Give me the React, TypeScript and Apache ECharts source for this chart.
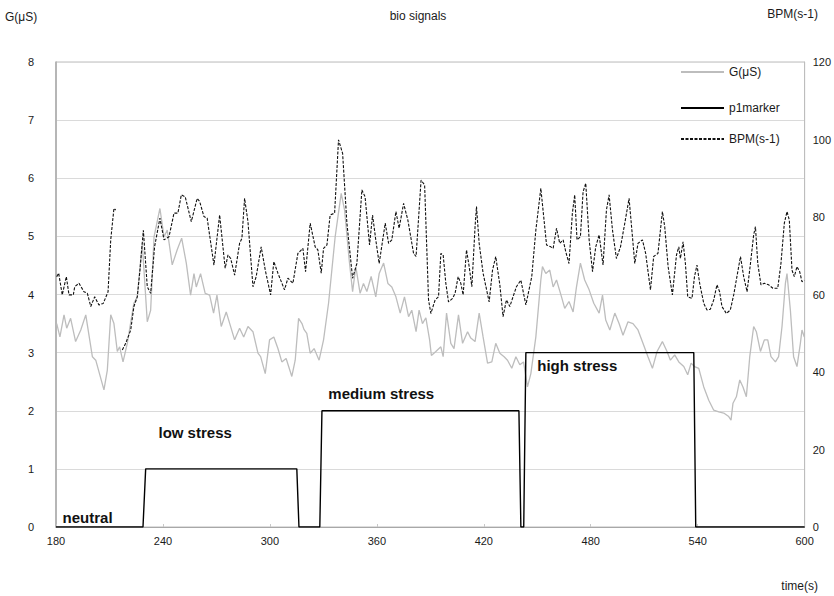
import { useEffect, useRef } from "react";
import * as echarts from "echarts";

const FONT = "'Liberation Sans', Arial, Helvetica, sans-serif";

// time (s) , skin conductance G (µS)
const gData: [number, number][] = [
  [180.4, 3.5], [182.2, 3.27], [184.5, 3.65], [186.0, 3.42], [188.2, 3.59], [191.0, 3.19], [193.9, 3.39], [196.7, 3.65],
  [200.4, 2.93], [202.3, 2.87], [206.9, 2.36], [208.8, 2.7], [210.7, 3.65], [212.5, 3.5], [214.4, 3.02], [215.7, 3.1],
  [217.6, 2.84], [220.0, 3.16], [223.7, 3.85], [225.6, 3.96], [228.4, 4.88], [231.2, 3.53], [233.1, 3.73], [235.0, 4.99],
  [238.3, 5.48], [240.6, 4.99], [242.4, 5.11], [245.2, 4.51], [248.0, 4.77], [250.5, 4.97], [253.1, 4.54], [255.5, 3.99],
  [257.4, 4.36], [258.7, 4.13], [261.1, 4.36], [263.7, 4.02], [266.2, 3.99], [268.4, 3.68], [270.3, 3.99], [272.7, 3.45],
  [275.5, 3.7], [280.2, 3.22], [283.0, 3.42], [285.3, 3.27], [287.7, 3.45], [290.5, 3.36], [293.3, 2.99], [294.8, 2.93],
  [297.4, 2.64], [299.8, 3.22], [302.2, 3.27], [304.5, 3.07], [306.7, 2.84], [309.1, 2.9], [312.3, 2.59], [314.2, 2.87],
  [316.1, 3.59], [318.0, 3.5], [319.1, 3.4], [320.7, 3.33], [322.6, 2.99], [324.8, 3.07], [327.6, 2.87], [330.1, 3.22],
  [332.9, 3.85], [336.6, 4.99], [340.0, 5.74], [341.9, 5.45], [344.5, 4.59], [346.4, 4.05], [348.2, 4.48], [350.6, 4.02],
  [352.5, 4.19], [354.4, 4.05], [356.8, 4.31], [359.4, 3.96], [361.3, 4.36], [363.8, 4.54], [366.2, 4.19], [368.4, 4.13],
  [370.7, 3.96], [373.1, 3.68], [375.5, 3.96], [377.8, 3.62], [379.6, 3.73], [382.0, 3.36], [383.7, 3.73], [385.6, 3.5],
  [387.5, 3.6], [389.6, 3.22], [390.6, 2.95], [393.1, 3.02], [395.9, 3.1], [397.2, 2.93], [399.1, 3.68], [401.5, 3.16],
  [403.3, 3.07], [405.8, 3.65], [408.1, 3.16], [410.9, 3.36], [412.7, 3.25], [415.1, 3.19], [417.4, 3.68], [419.6, 3.27],
  [422.1, 2.82], [424.5, 2.84], [426.7, 3.16], [429.0, 2.99], [431.4, 2.93], [433.3, 2.87], [435.7, 2.73], [438.0, 2.93],
  [440.2, 2.79], [442.3, 2.84], [444.5, 2.41], [446.4, 2.64], [449.2, 3.27], [452.0, 4.25], [452.9, 4.48], [454.8, 4.36],
  [457.0, 4.42], [458.9, 4.13], [460.8, 4.25], [463.6, 3.96], [465.4, 3.76], [467.8, 3.88], [470.1, 3.7], [472.0, 4.13],
  [474.2, 4.54], [476.6, 4.25], [479.1, 4.08], [481.7, 3.85], [484.7, 3.68], [486.6, 3.99], [488.4, 3.56], [490.7, 3.39],
  [493.5, 3.68], [495.9, 3.5], [498.1, 3.3], [500.9, 3.53], [503.7, 3.5], [506.5, 3.39], [509.3, 3.16], [512.1, 2.93],
  [514.6, 2.73], [517.2, 3.02], [520.2, 3.19], [522.8, 3.02], [524.7, 2.87], [527.1, 2.96], [529.4, 2.84], [532.2, 2.76],
  [534.4, 2.62], [536.3, 2.82], [538.2, 2.76], [540.6, 2.73], [543.4, 2.41], [546.2, 2.18], [549.0, 2.01], [551.8, 1.98],
  [554.6, 1.96], [557.4, 1.9], [558.7, 1.84], [559.8, 2.13], [561.7, 2.24], [563.6, 2.53], [565.4, 2.41], [567.3, 2.24],
  [569.2, 2.93], [571.4, 3.45], [572.9, 3.36], [575.2, 3.02], [577.4, 3.22], [579.3, 3.22], [581.1, 2.93], [583.6, 2.84],
  [585.4, 2.93], [587.3, 3.45], [589.2, 4.19], [590.1, 4.36], [592.0, 3.73], [593.8, 2.93], [595.7, 2.76], [597.6, 3.16],
  [598.5, 3.39], [599.8, 3.27],
];

// time (s) , heart rate BPM (s-1) ; null = missing samples
const bpmData: [number, number | null][] = [
  [180.4, 64.6], [181.5, 65.5], [183.5, 59.9], [185.8, 64.6], [187.3, 59.9], [189.7, 59.9], [190.5, 62.0], [192.9, 62.9],
  [195.7, 60.7], [197.6, 60.3], [199.5, 56.9], [201.7, 59.4], [204.1, 57.3], [206.5, 57.7], [209.2, 60.7], [210.7, 74.1],
  [212.5, 82.2], [213.5, 81.8], [215.0, null],
  [217.2, 45.7], [219.1, 47.4], [221.9, 50.8], [223.7, 56.9], [225.6, 59.4], [227.1, 66.3], [229.0, 76.6], [231.2, 62.0],
  [233.1, 60.3], [235.3, 72.3], [238.3, 79.7], [240.6, 74.1], [243.4, 74.9], [246.2, 81.0], [248.4, 81.0], [250.3, 85.7],
  [252.5, 85.2], [255.9, 78.8], [259.2, 84.8], [260.6, 84.0], [263.0, 80.1], [264.8, 79.7], [268.6, 67.6], [271.8, 80.5],
  [274.9, 66.8], [276.5, 70.2], [278.0, 69.3], [280.2, 65.0], [283.0, 73.2], [284.3, 74.5], [285.8, 84.8], [287.7, 78.8],
  [290.5, 62.0], [292.3, 64.6], [295.1, 72.3], [297.4, 66.3], [300.4, 59.9], [302.2, 68.5], [304.5, 65.5], [308.2, 61.2],
  [310.1, 64.2], [312.9, 62.9], [315.7, 70.6], [318.5, 71.9], [320.0, 65.9], [322.6, 78.4], [325.4, 72.3], [326.9, 71.5],
  [328.8, 65.5], [330.1, 71.9], [332.0, 72.8], [333.8, 80.5], [336.3, 81.0], [338.5, 99.9], [340.8, 96.4], [343.2, 78.4],
  [346.4, 64.2], [348.8, 68.0], [351.6, 87.0], [353.4, 85.2], [355.9, 72.8], [357.6, 80.5], [359.4, 74.1], [361.3, 68.0],
  [364.7, 78.4], [366.6, 73.2], [368.4, 74.1], [370.7, 81.4], [372.5, 77.1], [375.0, 83.5], [377.4, 79.2], [380.6, 70.6],
  [382.0, 69.8], [384.8, 89.5], [386.8, 88.3], [389.0, 58.6], [390.3, 55.1], [392.7, 58.6], [394.6, 59.4], [395.9, 70.6],
  [397.2, 70.2], [398.7, 62.9], [400.2, 58.1], [402.5, 59.0], [403.9, 60.3], [405.6, 64.6], [407.1, 62.9], [408.4, 59.9],
  [410.3, 71.5], [411.8, 67.2], [413.3, 62.0], [415.1, 77.5], [415.9, 82.7], [417.4, 73.2], [419.6, 65.5], [423.0, 58.1],
  [424.9, 66.3], [426.7, 69.8], [429.0, 62.5], [430.8, 54.3], [432.7, 58.6], [434.6, 56.9], [436.4, 59.4], [438.3, 62.0],
  [440.8, 63.7], [443.6, 57.3], [446.9, 64.6], [449.2, 76.6], [452.0, 87.4], [453.8, 79.2], [455.2, 72.8], [457.6, 72.3],
  [458.9, 71.9], [460.8, 77.1], [462.6, 73.2], [464.5, 74.1], [466.0, 71.0], [467.8, 68.0], [469.7, 81.0], [471.0, 85.7],
  [472.3, 74.1], [474.2, 74.9], [475.7, 86.5], [477.2, 88.7], [479.1, 74.1], [481.0, 65.9], [482.8, 72.3], [484.7, 75.4],
  [486.9, 67.6], [488.8, 81.8], [490.3, 85.7], [492.2, 76.6], [494.4, 69.3], [496.7, 72.3], [499.1, 78.4], [501.5, 84.8],
  [503.4, 74.9], [504.7, 68.0], [506.5, 73.2], [509.0, 74.1], [510.8, 70.6], [513.5, 61.2], [515.3, 69.8], [517.7, 70.6],
  [520.2, 81.4], [521.5, 77.5], [523.4, 67.2], [525.8, 59.9], [528.1, 70.2], [529.4, 72.3], [530.3, 69.3], [531.8, 73.6],
  [533.1, 68.0], [534.4, 59.4], [536.8, 59.0], [538.2, 64.6], [539.6, 67.6], [541.1, 62.9], [543.4, 57.7], [545.2, 56.0],
  [547.1, 56.2], [549.0, 58.6], [550.8, 62.5], [552.3, 60.7], [553.6, 56.9], [556.1, 55.1], [558.3, 56.0], [560.2, 59.9],
  [562.0, 64.6], [564.0, 69.8], [565.8, 64.6], [567.7, 60.7], [569.6, 68.0], [571.4, 75.4], [572.4, 77.5], [573.7, 68.0],
  [575.5, 62.5], [577.4, 62.9], [579.8, 62.5], [582.2, 61.6], [584.9, 61.6], [586.7, 68.0], [588.6, 78.4], [590.1, 81.4],
  [591.4, 79.2], [592.9, 66.3], [594.2, 64.6], [595.7, 67.2], [597.2, 65.9], [598.5, 63.3], [599.8, 63.7],
];

// stress phase marker (level 0..3)
const markerData: [number, number][] = [
  [180, 0], [228.8, 0], [230.3, 1], [315.1, 1], [316.3, 0], [328.0, 0], [329.2, 2], [439.7, 2], [440.8, 0],
  [442.4, 0], [443.6, 3], [537.8, 3], [538.9, 0], [600, 0],
];

// phase labels: text, time, level on G axis
const phaseNames = ["neutral", "low stress", "medium stress", "high stress"];
const phaseTimes = [183.4, 237.2, 332.5, 449.7];
const phaseLevels = [0.155, 1.63, 2.29, 2.77];

const seriesNames = ["G(μS)", "p1marker", "BPM(s-1)"];
const chartTitle = "bio signals";

export default function App() {
  const ref = useRef<HTMLDivElement>(null);
  useEffect(() => {
    const chart = echarts.init(ref.current!, null, { renderer: "svg" });
    const txt = "#1a1a1a";
    const legendBase = {
      left: 675,
      orient: "vertical",
      itemWidth: 43,
      itemHeight: 14,
      itemStyle: { opacity: 0 },
      textStyle: { fontSize: 12, color: txt, fontFamily: FONT },
      selectedMode: false,
    };
    chart.setOption({
      animation: false,
      backgroundColor: "#ffffff",
      textStyle: { fontFamily: FONT },
      title: {
        text: chartTitle,
        left: 413,
        top: 5,
        textAlign: "center",
        textStyle: { fontSize: 12, fontWeight: "normal", color: txt, fontFamily: FONT },
      },
      grid: { left: 56, right: 29, top: 62, bottom: 69, show: true, borderColor: "#bdbdbd", borderWidth: 1 },
      legend: [
        { ...legendBase, top: 61, data: [seriesNames[0]] },
        { ...legendBase, top: 97, data: [seriesNames[1]] },
        { ...legendBase, top: 128, data: [seriesNames[2]] },
      ],
      xAxis: {
        type: "value",
        min: 180,
        max: 600,
        interval: 60,
        axisLine: { show: true, lineStyle: { color: "#a8a8a8", width: 1 } },
        axisTick: { show: true, inside: true, length: 3, lineStyle: { color: "#c8c8c8" } },
        axisLabel: { fontSize: 11, color: txt, margin: 8, fontFamily: FONT },
        splitLine: { show: false },
      },
      yAxis: [
        {
          type: "value",
          min: 0,
          max: 8,
          interval: 1,
          axisLine: { show: true, lineStyle: { color: "#a8a8a8", width: 1.5 } },
          axisTick: { show: false },
          axisLabel: { fontSize: 11, color: txt, margin: 22, fontFamily: FONT },
          splitLine: { show: true, lineStyle: { color: "#dadada", width: 1 } },
        },
        {
          type: "value",
          min: 0,
          max: 120,
          interval: 20,
          position: "right",
          axisLine: { show: true, lineStyle: { color: "#bdbdbd" } },
          axisTick: { show: false },
          axisLabel: { fontSize: 11, color: txt, margin: 8, fontFamily: FONT },
          splitLine: { show: false },
        },
      ],
      graphic: [
        {
          type: "text",
          x: 5,
          y: 17,
          style: { text: "G(μS)", fill: txt, fontSize: 12, fontFamily: FONT, align: "left", verticalAlign: "middle" },
        },
        {
          type: "text",
          x: 818,
          y: 14,
          style: { text: "BPM(s-1)", fill: txt, fontSize: 12, fontFamily: FONT, align: "right", verticalAlign: "middle" },
        },
        {
          type: "text",
          x: 818,
          y: 586,
          style: { text: "time(s)", fill: txt, fontSize: 12, fontFamily: FONT, align: "right", verticalAlign: "middle" },
        },
      ],
      series: [
        {
          name: seriesNames[0],
          type: "line",
          yAxisIndex: 0,
          data: gData,
          symbol: "none",
          lineStyle: { color: "#bdbdbd", width: 1.3 },
          itemStyle: { color: "#bdbdbd" },
          z: 2,
        },
        {
          name: seriesNames[1],
          type: "line",
          yAxisIndex: 0,
          data: markerData,
          symbol: "none",
          lineStyle: { color: "#000000", width: 1.4 },
          itemStyle: { color: "#000000" },
          z: 4,
          markPoint: {
            symbol: "circle",
            symbolSize: 1,
            itemStyle: { color: "rgba(0,0,0,0)" },
            label: {
              show: true,
              position: "right",
              distance: 0,
              formatter: "{b}",
              fontSize: 15,
              fontWeight: "bold",
              color: "#111",
              fontFamily: FONT,
            },
            data: phaseNames.map((n, i) => ({ name: n, coord: [phaseTimes[i], phaseLevels[i]] })),
          },
        },
        {
          name: seriesNames[2],
          type: "line",
          yAxisIndex: 1,
          data: bpmData,
          symbol: "none",
          connectNulls: false,
          lineStyle: { color: "#111111", width: 1.1, type: [3, 1.5] },
          itemStyle: { color: "#111111" },
          z: 3,
        },
      ],
    });
    return () => chart.dispose();
  }, []);
  return <div ref={ref} style={{ position: "absolute", left: 0, top: 0, width: 834, height: 596 }} />;
}
